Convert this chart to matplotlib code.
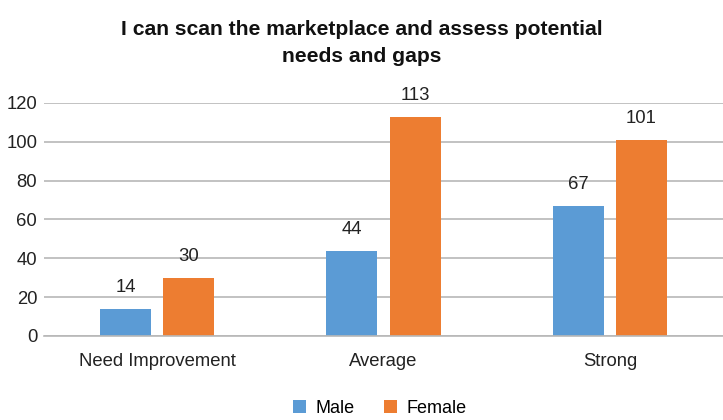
import numpy as np
import matplotlib.pyplot as plt

plt.rcParams['font.family'] = ['Liberation Sans', 'DejaVu Sans']

categories = ['Need Improvement', 'Average', 'Strong']
male = [14, 44, 67]
female = [30, 113, 101]

blue = '#5B9BD5'
orange = '#ED7D31'

fig = plt.figure(figsize=(7.23, 4.2), dpi=100)
ax = fig.add_axes([0.061, 0.2, 0.939, 0.5548])

x = np.arange(len(categories))
w = 0.225
b1 = ax.bar(x - 0.14, male, w, color=blue, label='Male')
b2 = ax.bar(x + 0.14, female, w, color=orange, label='Female')

for bars, vals in ((b1, male), (b2, female)):
    for r, v in zip(bars, vals):
        ax.text(r.get_x() + r.get_width() / 2, v + 6.5, str(v),
                ha='center', va='bottom', fontsize=13.3, color='#222222')

ax.set_xlim(-0.5, 2.5)
ax.set_ylim(0, 120)
ax.set_yticks(range(0, 121, 20))
ax.set_xticks(x)
ax.set_xticklabels(categories)
ax.tick_params(axis='both', length=0, labelsize=13.3, colors='#222222')
ax.tick_params(axis='y', pad=5)
ax.tick_params(axis='x', pad=12)
ax.yaxis.grid(True, color='#B8B8B8', linewidth=1.2)
ax.set_axisbelow(True)
for s in ('top', 'right', 'left'):
    ax.spines[s].set_visible(False)
ax.spines['bottom'].set_color('#B8B8B8')
ax.spines['bottom'].set_linewidth(1.2)

fig.text(0.5, 0.898, 'I can scan the marketplace and assess potential\nneeds and gaps',
         ha='center', va='center', fontsize=15.2, fontweight='bold',
         linespacing=1.5, color='#111111')

fig.legend(handles=[b1, b2], loc='center', bbox_to_anchor=(0.525, 0.028),
           ncol=2, frameon=False, fontsize=13, handlelength=0.75,
           handleheight=0.75, columnspacing=1.6, handletextpad=0.5)

fig.savefig('out.png', dpi=100)
